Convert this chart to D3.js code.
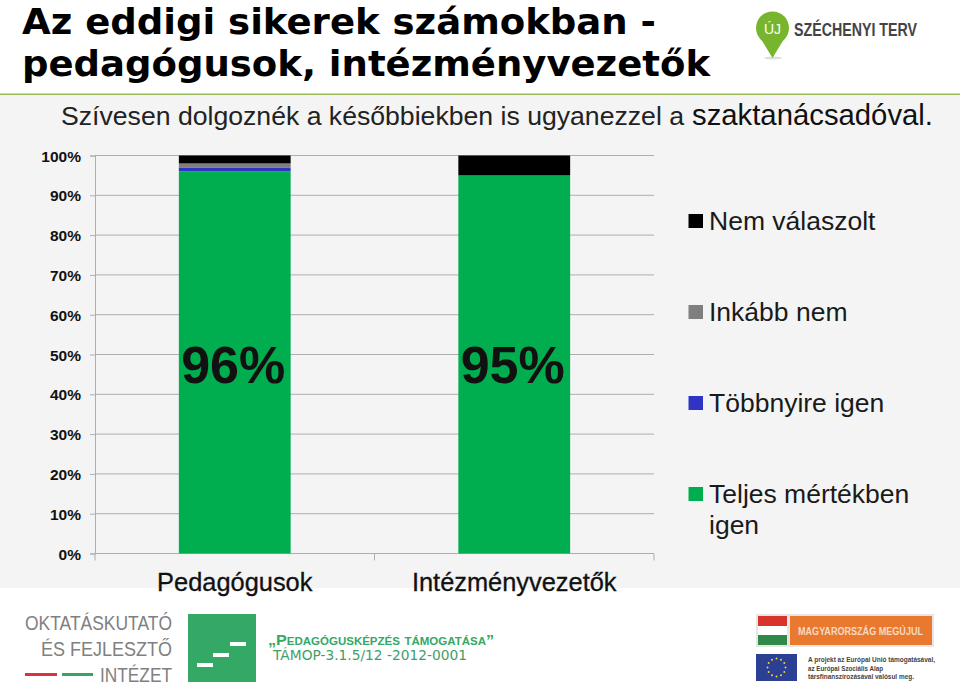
<!DOCTYPE html>
<html>
<head>
<meta charset="utf-8">
<script src="https://cdn.jsdelivr.net/npm/d3@7"></script>
<style>
body{margin:0;background:#fff;}
svg{display:block;}
text{font-family:"Liberation Sans",Arial,sans-serif;}
</style>
</head>
<body>
<script>
var categories = ["Pedagógusok", "Intézményvezetők"];
var seriesNames = ["Teljes mértékben igen", "Többnyire igen", "Inkább nem", "Nem válaszolt"];
var seriesColors = ["#00ae4f", "#3034c4", "#7f7f7f", "#000000"];
var teljes = [96, 95];
var tobbnyire = [1, 0];
var inkabbNem = [1, 0];
var nemValaszolt = [2, 5];
var barLabels = ["96%", "95%"];
var yTicks = [0, 10, 20, 30, 40, 50, 60, 70, 80, 90, 100];

var w = 960, h = 691;
var svg = d3.select("body").append("svg").attr("width", w).attr("height", h);

// gray slide panel behind the chart, green rule on top of it
svg.append("rect").attr("x", 0).attr("y", 95).attr("width", w).attr("height", 493).attr("fill", "#f4f4f4");
svg.append("rect").attr("x", 0).attr("y", 93.5).attr("width", w).attr("height", 1.5).attr("fill", "#9bbb59");

// title
function titleLine(t, yPos, len){
	svg.append("text").attr("x", 22).attr("y", yPos).attr("font-size", 36).attr("font-weight", "bold")
		.style("font-family", "DejaVu Sans").attr("textLength", len).attr("lengthAdjust", "spacingAndGlyphs").text(t);
}
titleLine("Az eddigi sikerek számokban -", 33.5, 634);
titleLine("pedagógusok, intézményvezetők", 76, 688);

// subtitle, the last word is a bit larger in the reference
svg.append("text").attr("x", 61).attr("y", 125).attr("font-size", 26.5).attr("fill", "#222")
	.attr("textLength", 623).attr("lengthAdjust", "spacingAndGlyphs")
	.text("Szívesen dolgoznék a későbbiekben is ugyanezzel a");
svg.append("text").attr("x", 692).attr("y", 125).attr("font-size", 29).attr("fill", "#111")
	.attr("textLength", 241).attr("lengthAdjust", "spacingAndGlyphs")
	.text("szaktanácsadóval.");

var x = d3.scaleBand().domain(categories).range([95, 654]).paddingInner(0.6).paddingOuter(0.3);
var y = d3.scaleLinear().domain([0, 100]).range([553.5, 155.5]);

// gridlines
svg.append("g").selectAll("line").data(yTicks.slice(1)).enter().append("line")
	.attr("x1", 95).attr("x2", 654)
	.attr("y1", function(d){return y(d)}).attr("y2", function(d){return y(d)})
	.attr("stroke", "#aeaeae").attr("stroke-width", 1);

// y axis
var yAxis = svg.append("g").attr("transform", "translate(95,0)")
	.call(d3.axisLeft(y).tickValues(yTicks).tickFormat(function(d){return d + "%"}).tickSize(5).tickPadding(9));
yAxis.selectAll("text").attr("font-size", 15.5).attr("font-weight", "bold").attr("fill", "#111")
	.attr("dy", "0.36em").style("font-family", "Liberation Sans");
yAxis.selectAll("line,path").attr("stroke", "#aeaeae");

// x axis, ticks sit between the categories
svg.append("line").attr("x1", 95).attr("x2", 654).attr("y1", y(0)).attr("y2", y(0)).attr("stroke", "#aeaeae");
svg.append("g").selectAll("line").data([0, 1, 2]).enter().append("line")
	.attr("x1", function(d){return 95 + d * x.step()}).attr("x2", function(d){return 95 + d * x.step()})
	.attr("y1", y(0)).attr("y2", y(0) + 7).attr("stroke", "#aeaeae");
svg.append("g").selectAll("text").data(categories).enter().append("text")
	.attr("x", function(d){return x(d) + x.bandwidth() / 2}).attr("y", 591)
	.attr("text-anchor", "middle").attr("font-size", 25.4).attr("fill", "#111")
	.attr("stroke", "#111").attr("stroke-width", 0.3).text(function(d){return d});

// stacked bars
var allSeries = [teljes, tobbnyire, inkabbNem, nemValaszolt];
categories.forEach(function(c, i){
	var sum = 0;
	allSeries.forEach(function(s, j){
		svg.append("rect").attr("x", x(c)).attr("width", x.bandwidth())
			.attr("y", y(sum + s[i])).attr("height", y(sum) - y(sum + s[i]))
			.attr("fill", seriesColors[j]);
		sum += s[i];
	});
});
svg.append("g").selectAll("text").data(barLabels).enter().append("text")
	.attr("x", function(d, i){return x(categories[i]) + x.bandwidth() / 2 - 1.5}).attr("y", 383)
	.attr("text-anchor", "middle").attr("font-size", 52).attr("font-weight", "bold").attr("fill", "#111").text(function(d){return d});

// legend, top entry is the last series
var legendY = [221, 312, 403, 494];
var legendOrder = [3, 2, 1, 0];
legendOrder.forEach(function(s, i){
	svg.append("rect").attr("x", 688.5).attr("y", legendY[i] - 7).attr("width", 14.5).attr("height", 14).attr("fill", seriesColors[s]);
});
var legendLabels = [["Nem válaszolt"], ["Inkább nem"], ["Többnyire igen"], ["Teljes mértékben", "igen"]];
legendLabels.forEach(function(lines, i){
	lines.forEach(function(t, k){
		svg.append("text").attr("x", 709).attr("y", legendY[i] + 9 + k * 31).attr("font-size", 26.5).attr("fill", "#1a1a1a").text(t);
	});
});

// logos
var sz = svg.append("g");
sz.append("ellipse").attr("cx", 773).attr("cy", 58).attr("rx", 9).attr("ry", 1.5).attr("fill", "#ddd");
sz.append("circle").attr("cx", 772.5).attr("cy", 28).attr("r", 16.5).attr("fill", "#78b52e");
sz.append("path").attr("d", "M761,39 L772.5,58 L784,39 Z").attr("fill", "#78b52e");
sz.append("text").attr("x", 772.5).attr("y", 34).attr("text-anchor", "middle").attr("font-size", 14).attr("fill", "#fff").text("ÚJ");
sz.append("text").attr("x", 794).attr("y", 36).attr("font-size", 19).attr("font-weight", "bold").attr("fill", "#444")
	.attr("textLength", 123).attr("lengthAdjust", "spacingAndGlyphs").text("SZÉCHENYI TERV");

var ok = svg.append("g").attr("fill", "#808080").attr("font-size", 21).attr("text-anchor", "start");
ok.append("text").attr("x", 25).attr("y", 630).attr("textLength", 147).attr("lengthAdjust", "spacingAndGlyphs").text("OKTATÁSKUTATÓ");
ok.append("text").attr("x", 41).attr("y", 656).attr("textLength", 131).attr("lengthAdjust", "spacingAndGlyphs").text("ÉS FEJLESZTŐ");
ok.append("text").attr("x", 100).attr("y", 682).attr("textLength", 72).attr("lengthAdjust", "spacingAndGlyphs").text("INTÉZET");
svg.append("rect").attr("x", 25).attr("y", 673).attr("width", 32).attr("height", 3).attr("fill", "#d8343f");
svg.append("rect").attr("x", 62).attr("y", 673).attr("width", 31).attr("height", 3).attr("fill", "#33a661");

svg.append("rect").attr("x", 188).attr("y", 614).attr("width", 68).attr("height", 68).attr("fill", "#34a865");
[[197, 663], [213, 653], [230, 642]].forEach(function(p){
	svg.append("rect").attr("x", p[0]).attr("y", p[1]).attr("width", 16).attr("height", 4).attr("fill", "#fff");
});
svg.append("text").attr("x", 268).attr("y", 645).attr("font-size", 14).attr("font-weight", "bold").attr("fill", "#34a865")
	.style("font-variant", "small-caps")
	.attr("textLength", 226).attr("lengthAdjust", "spacingAndGlyphs").text("„Pedagógusképzés támogatása”");
svg.append("text").attr("x", 273).attr("y", 660).attr("font-size", 13.5).attr("fill", "#3f9e68")
	.style("font-family", "DejaVu Sans")
	.attr("textLength", 194).attr("lengthAdjust", "spacingAndGlyphs").text("TÁMOP-3.1.5/12 -2012-0001");

// hungarian flag and banner
svg.append("rect").attr("x", 756).attr("y", 614).attr("width", 178).attr("height", 33).attr("fill", "#e6e6e6");
svg.append("rect").attr("x", 758).attr("y", 616).attr("width", 29).attr("height", 10).attr("fill", "#d8342c");
svg.append("rect").attr("x", 758).attr("y", 626).attr("width", 29).attr("height", 9).attr("fill", "#fff");
svg.append("rect").attr("x", 758).attr("y", 635).attr("width", 29).attr("height", 10).attr("fill", "#2f8a4a");
svg.append("rect").attr("x", 790).attr("y", 616).attr("width", 142).attr("height", 29).attr("fill", "#e8792e");
svg.append("text").attr("x", 798).attr("y", 635).attr("font-size", 11.5).attr("font-weight", "bold").attr("fill", "#f6d9c2")
	.attr("textLength", 125).attr("lengthAdjust", "spacingAndGlyphs").text("MAGYARORSZÁG MEGÚJUL");

// eu flag and note
svg.append("rect").attr("x", 756).attr("y", 654).attr("width", 41).attr("height", 27).attr("fill", "#2b3f93");
svg.append("g").selectAll("circle").data(d3.range(12)).enter().append("circle")
	.attr("cx", function(d){return 776.5 + 9 * Math.cos(d * Math.PI / 6)})
	.attr("cy", function(d){return 667.5 + 9 * Math.sin(d * Math.PI / 6)})
	.attr("r", 1).attr("fill", "#f2d230");
var euLines = ["A projekt az Európai Unió támogatásával,", "az Európai Szociális Alap", "társfinanszírozásával valósul meg."];
var euLen = [127, 75, 106];
euLines.forEach(function(t, i){
	svg.append("text").attr("x", 808).attr("y", 662 + i * 8.5).attr("font-size", 7).attr("font-weight", "bold").attr("fill", "#444")
		.attr("textLength", euLen[i]).attr("lengthAdjust", "spacingAndGlyphs").text(t);
});
</script>
</body>
</html>
